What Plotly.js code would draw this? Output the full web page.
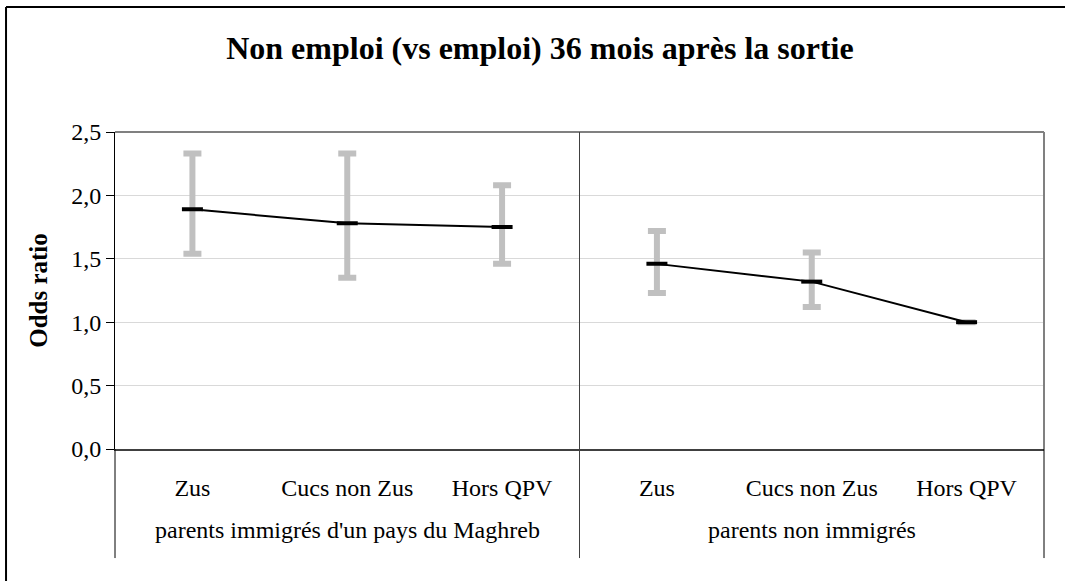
<!DOCTYPE html>
<html lang="fr">
<head>
    <meta charset="UTF-8">
    <title>Non emploi (vs emploi) 36 mois après la sortie</title>
    <script src="https://cdn.plot.ly/plotly-3.0.1.min.js"></script>
    <style>
        body { margin: 0; background: #fff; }
        #chart { width: 1065px; height: 581px; }
    </style>
</head>
<body>
    <div id="chart"></div>
    <script>
        // Groups and zones
        const groups = ["parents immigrés d'un pays du Maghreb", "parents non immigrés"];
        const zones = ['Zus', 'Cucs non Zus', 'Hors QPV'];

        // Odds ratios with confidence bounds
        const oddsMaghreb = [1.89, 1.78, 1.75];
        const upperMaghreb = [2.33, 2.33, 2.08];
        const lowerMaghreb = [1.54, 1.35, 1.46];

        const oddsNonImm = [1.46, 1.32, 1.00];
        const upperNonImm = [1.72, 1.55, 1.00];
        const lowerNonImm = [1.23, 1.12, 1.00];

        const yTicks = [0, 0.5, 1, 1.5, 2, 2.5];

        const serif = '"Liberation Serif", "DejaVu Serif", serif';

        // one subplot per group, sharing the y axis
        function makeTrace(xaxis, odds, upper, lower) {
            return {
                type: 'scatter',
                mode: 'lines+markers',
                xaxis: xaxis,
                yaxis: 'y',
                x: zones,
                y: odds,
                line: { color: '#000', width: 2 },
                marker: { symbol: 'line-ew', size: 15, line: { color: '#000', width: 4 } },
                error_y: {
                    type: 'data',
                    symmetric: false,
                    array: upper.map((u, i) => u - odds[i]),
                    arrayminus: lower.map((l, i) => odds[i] - l),
                    color: '#c0c0c0',
                    thickness: 6,
                    width: 9
                },
                showlegend: false,
                hoverinfo: 'y'
            };
        }

        const traces = [
            makeTrace('x', oddsMaghreb, upperMaghreb, lowerMaghreb),
            makeTrace('x2', oddsNonImm, upperNonImm, lowerNonImm)
        ];

        const xCommon = {
            type: 'category',
            categoryorder: 'array',
            categoryarray: zones,
            range: [-0.5, zones.length - 0.5],
            showline: true,
            linecolor: '#404040',
            linewidth: 2,
            showgrid: false,
            ticks: '',
            ticklabelstandoff: 16,
            tickfont: { family: serif, size: 24, color: '#000' },
            anchor: 'y'
        };

        const dividerY = -0.344;   // dividers go down past the group labels
        const groupY = -0.2555;

        const layout = {
            width: 1065,
            height: 581,
            margin: { l: 115, r: 21, t: 132, b: 132 },
            paper_bgcolor: '#fff',
            plot_bgcolor: '#fff',
            separators: ', ',
            font: { family: serif, size: 24, color: '#000' },
            title: {
                text: '<b>Non emploi (vs emploi) 36 mois après la sortie</b>',
                font: { family: serif, size: 32, color: '#000' },
                x: 0.507, xref: 'container', xanchor: 'center',
                y: 0.917, yref: 'container', yanchor: 'middle'
            },
            xaxis: Object.assign({ domain: [0, 0.5] }, xCommon),
            xaxis2: Object.assign({ domain: [0.5, 1] }, xCommon),
            yaxis: {
                anchor: 'x',
                range: [0, 2.5],
                tickvals: yTicks,
                tickformat: '.1f',
                ticks: 'outside',
                ticklen: 8,
                tickcolor: '#000',
                showline: true,
                linecolor: '#000',
                linewidth: 1,
                showgrid: true,
                gridcolor: '#d9d9d9',
                gridwidth: 1,
                zeroline: false,
                tickfont: { family: serif, size: 24, color: '#000' },
                title: {
                    text: '<b>Odds ratio</b>',
                    font: { family: serif, size: 25, color: '#000' },
                    standoff: 16
                }
            },
            annotations: groups.map((g, i) => ({
                text: g,
                xref: i === 0 ? 'x domain' : 'x2 domain',
                yref: 'paper',
                x: 0.5, y: groupY,
                xanchor: 'center', yanchor: 'middle',
                showarrow: false,
                font: { family: serif, size: 24, color: '#000' }
            })),
            shapes: [
                // top and right edges of the plot frame
                { type: 'line', xref: 'paper', yref: 'paper', x0: 0, x1: 1, y0: 1, y1: 1,
                  line: { color: '#808080', width: 2 } },
                { type: 'line', xref: 'paper', yref: 'paper', x0: 1, x1: 1, y0: 0, y1: 1,
                  line: { color: '#808080', width: 2 } },
                // dividers below the axis and between the groups
                { type: 'line', xref: 'paper', yref: 'paper', x0: 0, x1: 0, y0: dividerY, y1: 0,
                  line: { color: '#000', width: 1 } },
                { type: 'line', xref: 'paper', yref: 'paper', x0: 0.5, x1: 0.5, y0: dividerY, y1: 1,
                  line: { color: '#404040', width: 1 } },
                { type: 'line', xref: 'paper', yref: 'paper', x0: 1, x1: 1, y0: dividerY, y1: 0,
                  line: { color: '#000', width: 1 } },
                // outer chart frame (open on the right and bottom, cropped)
                { type: 'line', xref: 'paper', yref: 'paper', x0: -0.1173, x1: 1.05, y0: 1.394, y1: 1.394,
                  line: { color: '#000', width: 2 } },
                { type: 'line', xref: 'paper', yref: 'paper', x0: -0.1173, x1: -0.1173, y0: -0.5, y1: 1.394,
                  line: { color: '#000', width: 2 } }
            ]
        };

        Plotly.newPlot('chart', traces, layout, { displayModeBar: false, staticPlot: true });
    </script>
</body>
</html>
